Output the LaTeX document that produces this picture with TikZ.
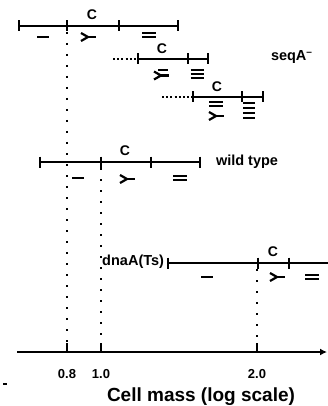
\documentclass[tikz,border=0pt]{standalone}
\usepackage{fontspec}
\setmainfont{Liberation Sans}
\usetikzlibrary{arrows.meta}
\begin{document}
\begin{tikzpicture}[x=1pt,y=-1pt,line width=2pt,
  lab/.style={inner sep=0pt,font=\bfseries\fontsize{14}{15}\selectfont},
  rowname/.style={inner sep=0pt,font=\bfseries\fontsize{14.5}{15}\selectfont},
  axlab/.style={inner sep=0pt,font=\bfseries\fontsize{13}{14}\selectfont},
  guide/.style={line width=2pt,dash pattern=on 2pt off 9pt},
  lead/.style={line width=2pt,dash pattern=on 2pt off 2.2pt},
  tk/.pic={\draw[line width=2pt] (0,-5.5)--(0,5.5);},
  chbar/.pic={\draw[line width=2.2pt] (-6,0)--(6,0);},
  chtwo/.pic={\draw[line width=2.1pt] (-7,-2.2)--(7,-2.2) (-7,2.2)--(7,2.2);},
  chthree/.pic={\draw[line width=2pt] (-6.5,-3.8)--(6.5,-3.8) (-6.5,0)--(6.5,0) (-6.5,3.8)--(6.5,3.8);},
  chfour/.pic={\draw[line width=2pt] (-6,-7.5)--(6,-7.5) (-6,-2.5)--(6,-2.5) (-6,2.5)--(6,2.5) (-6,7.5)--(6,7.5);},
  chfork/.pic={\draw[line width=2.2pt,line join=round] (-7,-4)--(0,0)--(-7,4); \draw[line width=2.2pt] (0,0)--(8,0);}
]
\useasboundingbox (0,0) rectangle (328,406);
% row 1 (seqA)
\coordinate (r1a) at (19,26); \coordinate (r1b) at (67,26);
\coordinate (r1c) at (119,26); \coordinate (r1d) at (178,26);
\draw (r1a)--(r1d);
\foreach \p in {r1a,r1b,r1c,r1d} \pic at (\p) {tk};
\node[lab] (c1) at (92,15) {C};
\pic at (43,37) {chbar};
\pic at (88,37) {chfork};
\pic at (149,35) {chtwo};
% row 2 (seqA)
\coordinate (r2s) at (113,59); \coordinate (r2a) at (138,59);
\coordinate (r2b) at (188,59); \coordinate (r2c) at (208,59);
\draw[lead] (r2s)--(r2a);
\draw (r2a)--(r2c);
\foreach \p in {r2a,r2b,r2c} \pic at (\p) {tk};
\node[lab] (c2) at (162,49) {C};
\draw[line width=2pt] (158,70)--(168,70);
\pic at (161,75.5) {chfork};
\pic at (197,74) {chthree};
% row 3 (seqA)
\coordinate (r3s) at (162,97); \coordinate (r3a) at (193,97);
\coordinate (r3b) at (242,97); \coordinate (r3c) at (263,97);
\draw[lead] (r3s)--(r3a);
\draw (r3a)--(r3c);
\foreach \p in {r3a,r3b,r3c} \pic at (\p) {tk};
\node[lab] (c3) at (217,87) {C};
\pic at (216,104) {chtwo};
\pic at (216,116) {chfork};
\pic at (249,111) {chfour};
\node[rowname,anchor=west] (seq) at (270,57) {seqA\textsuperscript{–}};
% wild type
\coordinate (wa) at (40,162); \coordinate (wb) at (101,162);
\coordinate (wc) at (151,162); \coordinate (wd) at (200,162);
\draw (wa)--(wd);
\foreach \p in {wa,wb,wc,wd} \pic at (\p) {tk};
\node[lab] (cw) at (125,151) {C};
\pic at (78,178) {chbar};
\pic at (127,179) {chfork};
\pic at (180,178) {chtwo};
\node[rowname,anchor=west] (wt) at (215,162) {wild type};
% dnaA(Ts)
\coordinate (da) at (168,263); \coordinate (db) at (258,263);
\coordinate (dc) at (289,263); \coordinate (dd) at (328,263);
\draw (da)--(dd);
\foreach \p in {da,db,dc} \pic at (\p) {tk};
\node[lab] (cd) at (273,252) {C};
\pic at (207,277) {chbar};
\pic at (277,277) {chfork};
\pic at (312,277) {chtwo};
\node[rowname,anchor=east] (dn) at (165,262) {dnaA(Ts)};
% axis
\coordinate (ax0) at (17,352); \coordinate (ax1) at (327,352);
\draw[line width=2pt,-{Latex[length=7pt,width=7pt]}] (ax0)--(ax1);
\coordinate (t08) at (67,352); \coordinate (t10) at (101,352); \coordinate (t20) at (257,352);
\foreach \p in {t08,t10,t20} \draw[line width=2pt] (\p)--++(0,-9);
\node[axlab] (l08) at (67,374) {0.8};
\node[axlab] (l10) at (101,374) {1.0};
\node[axlab] (l20) at (257,374) {2.0};
\node[inner sep=0pt,font=\bfseries\fontsize{19}{20}\selectfont] (xl) at (201,397) {Cell mass (log scale)};
% guides
\draw[guide] (67,32)--(67,342);
\draw[guide] (101,168)--(101,342);
\draw[guide] (257,269)--(257,342);
% stray mark
\draw[line width=1.6pt] (3,384)--(7,384);
\end{tikzpicture}
\end{document}
